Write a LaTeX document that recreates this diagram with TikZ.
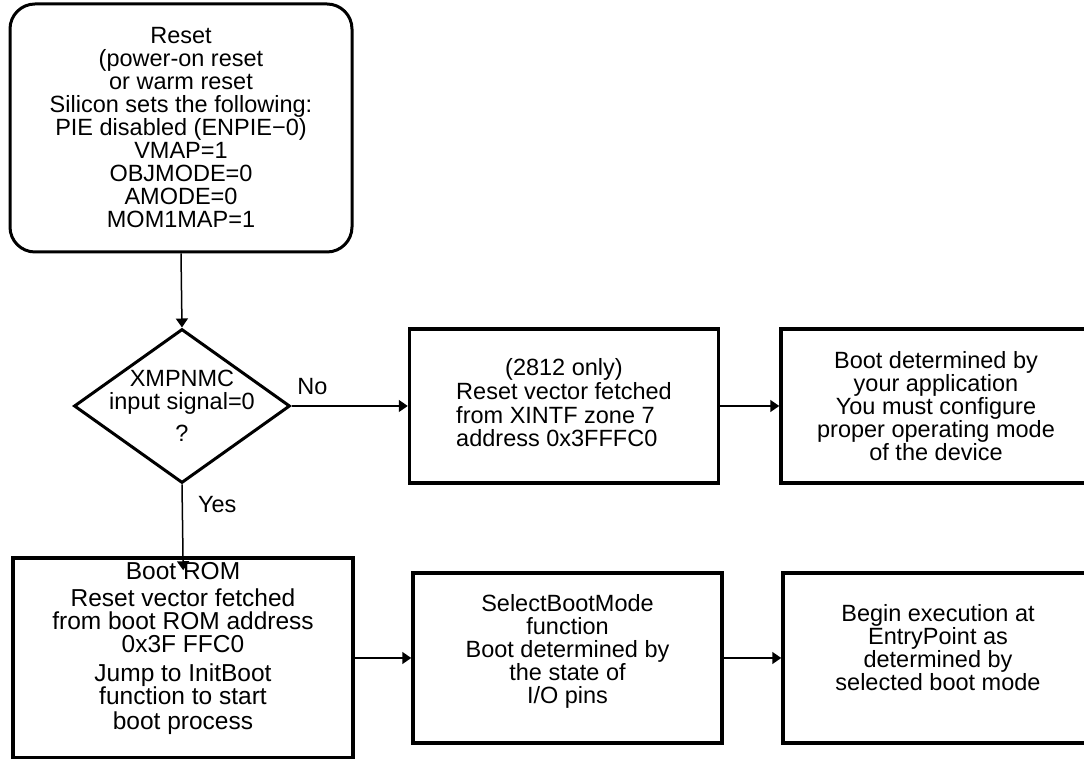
\documentclass[tikz,border=0pt]{standalone}
\usepackage{fontspec}
\setmainfont{Liberation Sans}
\usetikzlibrary{shapes.geometric, arrows.meta}

\tikzset{
    flowtext/.style = {font = \fontsize{23.5pt}{23pt}\selectfont, align = center, inner sep = 0pt},
    resetbox/.style = {flowtext, draw, rectangle, rounded corners = 25pt, line width = 3pt},
    procbox/.style = {flowtext, draw, rectangle, line width = 3.5pt},
    decbox/.style = {draw, diamond, line width = 3pt, inner sep = 0pt},
    flowarrow/.style = {-{Triangle[length = 9pt, width = 12pt]}, line width = 1.5pt}
}

\begin{document}
\begin{tikzpicture}

        \useasboundingbox (0pt, 0pt) rectangle (1084pt, 759pt);

        \node [resetbox, minimum width = 342pt, minimum height = 248pt] (reset) at (181pt, 631pt)
            {Reset\\(power-on reset\\or warm reset\\Silicon sets the following:\\PIE disabled (ENPIE−0)\\VMAP=1\\OBJMODE=0\\AMODE=0\\MOM1MAP=1};

        \node [decbox, minimum width = 216pt, minimum height = 154pt,
               label = {[flowtext]center:XMPNMC\\input signal=0\\[9pt]?}] (xmp) at (182pt, 353pt) {};

        \node [procbox, minimum width = 309pt, minimum height = 154pt] (xintf) at (564pt, 353pt)
            {\begin{tabular}{@{}l@{}}\multicolumn{1}{@{}c@{}}{(2812 only)}\\Reset vector fetched\\from XINTF zone 7\\address 0x3FFFC0\end{tabular}};
        \node [procbox, minimum width = 310pt, minimum height = 154pt] (app) at (936pt, 353pt)
            {Boot determined by\\your application\\You must configure\\proper operating mode\\of the device};

        \node [procbox, minimum width = 340pt, minimum height = 200pt, text depth = 24pt,
               font = \fontsize{24.5pt}{23pt}\selectfont] (bootrom) at (183pt, 101pt)
            {Boot ROM\\[4pt]Reset vector fetched\\from boot ROM address\\0x3F FFC0\\[6pt]Jump to InitBoot\\function to start\\[2pt]boot process};
        \node [procbox, minimum width = 309pt, minimum height = 170pt, text depth = 18pt] (select) at (567.5pt, 101pt)
            {SelectBootMode\\function\\Boot determined by\\the state of\\I/O pins};
        \node [procbox, minimum width = 310pt, minimum height = 170pt, text depth = 22pt] (entry) at (938pt, 101pt)
            {Begin execution at\\EntryPoint as\\determined by\\selected boot mode};

        % Down the left side
        \draw [flowarrow] (reset.south) -- (xmp.north);
        \draw [flowarrow, shorten >= -14pt] (xmp.south) -- node [flowtext, pos = 0.28, right = 15pt] {Yes} (bootrom.north);

        % Across
        \draw [flowarrow] (xmp.east) -- node [flowtext, pos = 0.18, above = 11pt] {No} (xintf.west);
        \draw [flowarrow] (xintf.east) -- (app.west);
        \draw [flowarrow] (bootrom.east) -- (select.west);
        \draw [flowarrow] (select.east) -- (entry.west);

    \end{tikzpicture}
\end{document}
